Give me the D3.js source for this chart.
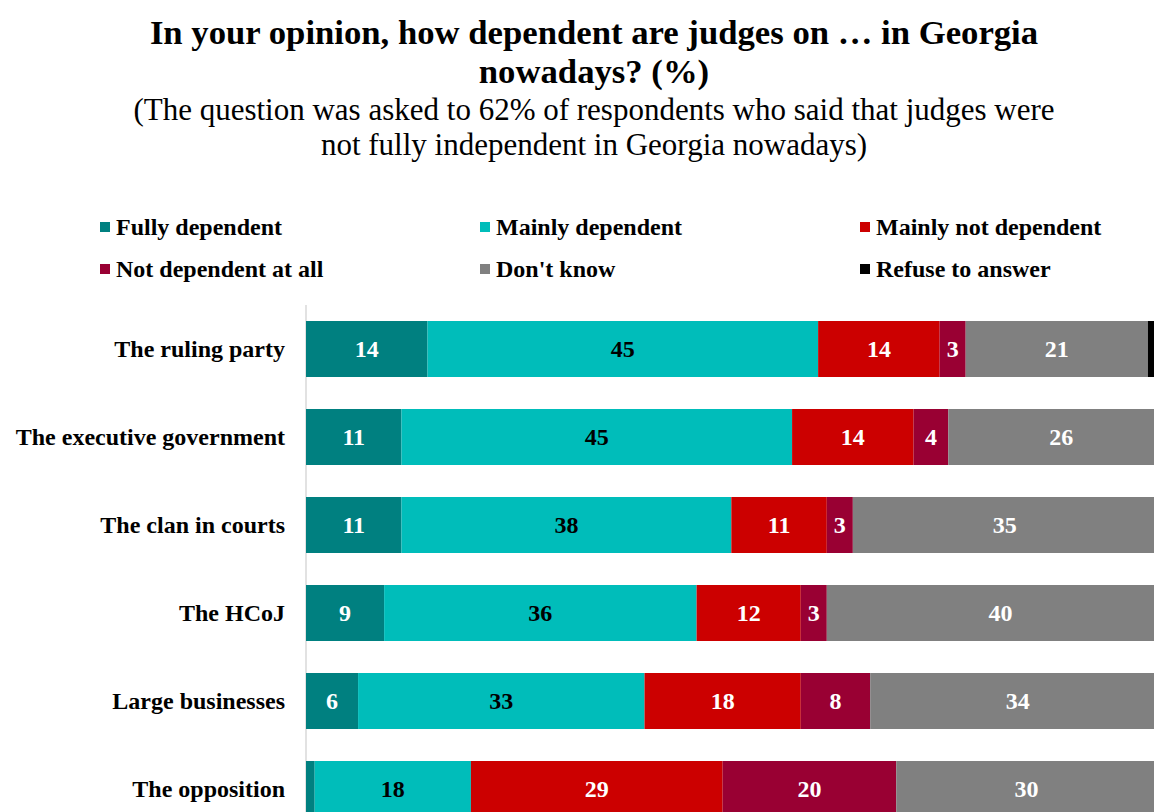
<!DOCTYPE html>
<html>
<head>
<meta charset="utf-8">
<script src="https://cdn.jsdelivr.net/npm/d3@7/dist/d3.min.js"></script>
<style>
  html, body { margin: 0; padding: 0; background: #ffffff; }
  svg { display: block; font-family: "Liberation Serif", "Times New Roman", serif; }
</style>
</head>
<body>
<svg id="chart" width="1154" height="812"></svg>
<script>
// Survey items (rows, top to bottom)
const categories = [
  "The ruling party",
  "The executive government",
  "The clan in courts",
  "The HCoJ",
  "Large businesses",
  "The opposition"
];

// Answer options, in stacking order
const seriesNames = [
  "Fully dependent",
  "Mainly dependent",
  "Mainly not dependent",
  "Not dependent at all",
  "Don't know",
  "Refuse to answer"
];
const seriesColors = ["#008080", "#00BDBA", "#CC0000", "#990033", "#808080", "#000000"];
const labelColors  = ["#ffffff", "#000000", "#ffffff", "#ffffff", "#ffffff", "#ffffff"];

// Percentages per answer option, one entry per category
const fullyDependent     = [14, 11, 11,  9,  6,  1];
const mainlyDependent    = [45, 45, 38, 36, 33, 18];
const mainlyNotDependent = [14, 14, 11, 12, 18, 29];
const notDependentAtAll  = [ 3,  4,  3,  3,  8, 20];
const dontKnow           = [21, 26, 35, 40, 34, 30];
const refuseToAnswer     = [ 3,  0,  2,  0,  1,  2];

const seriesValues = [fullyDependent, mainlyDependent, mainlyNotDependent,
                      notDependentAtAll, dontKnow, refuseToAnswer];

const rows = categories.map((c, i) => {
  const r = { category: c };
  seriesNames.forEach((s, j) => { r[s] = seriesValues[j][i]; });
  return r;
});

const stacked = d3.stack().keys(seriesNames)(rows);

const svg = d3.select("#chart");

const x = d3.scaleLinear().domain([0, 100]).range([306, 1174]);
const y = d3.scaleBand()
  .domain(categories)
  .range([305, 305 + 88 * categories.length])
  .paddingInner(32 / 88)
  .paddingOuter(16 / 88);

// Title and subtitle
const titleLines = ["In your opinion, how dependent are judges on \u2026 in Georgia", "nowadays? (%)"];
const subLines = ["(The question was asked to 62% of respondents who said that judges were",
                  "not fully independent in Georgia nowadays)"];
svg.append("g").selectAll("text").data(titleLines).join("text")
  .attr("x", 594).attr("y", (d, i) => 44 + i * 39)
  .attr("text-anchor", "middle")
  .attr("font-size", 34.7).attr("font-weight", "bold").attr("fill", "#000")
  .text(d => d);
svg.append("g").selectAll("text").data(subLines).join("text")
  .attr("x", 594).attr("y", (d, i) => 120 + i * 35)
  .attr("text-anchor", "middle")
  .attr("font-size", 31).attr("fill", "#000")
  .text(d => d);

// Legend: three columns, two rows
const legend = svg.append("g").selectAll("g").data(seriesNames).join("g")
  .attr("transform", (d, i) => `translate(${100 + (i % 3) * 380},${227 + Math.floor(i / 3) * 42})`);
legend.append("rect")
  .attr("x", 0).attr("y", -5).attr("width", 10).attr("height", 10)
  .attr("fill", (d, i) => seriesColors[i]);
legend.append("text")
  .attr("x", 16).attr("y", 8)
  .attr("font-size", 24).attr("font-weight", "bold").attr("fill", "#000")
  .text(d => d);

// Vertical axis line
svg.append("line")
  .attr("x1", 306).attr("x2", 306)
  .attr("y1", y.range()[0]).attr("y2", 812)
  .attr("stroke", "#d9d9d9").attr("stroke-width", 1.5);

// Stacked bars
const layers = svg.append("g").selectAll("g").data(stacked).join("g")
  .attr("fill", (d, i) => seriesColors[i]);
layers.selectAll("rect").data(d => d).join("rect")
  .attr("x", d => x(d[0]))
  .attr("y", d => y(d.data.category))
  .attr("width", d => x(d[1]) - x(d[0]))
  .attr("height", y.bandwidth());

// Value labels (skip slivers and the refusal share)
const labelLayers = svg.append("g").selectAll("g").data(stacked.slice(0, 5)).join("g")
  .attr("fill", (d, i) => labelColors[i]);
labelLayers.selectAll("text").data(d => d.filter(p => p[1] - p[0] >= 2)).join("text")
  .attr("x", d => (x(d[0]) + x(d[1])) / 2)
  .attr("y", d => y(d.data.category) + y.bandwidth() / 2)
  .attr("dy", "0.35em")
  .attr("text-anchor", "middle")
  .attr("font-size", 24).attr("font-weight", "bold")
  .text(d => d[1] - d[0]);

// Category labels
svg.append("g").selectAll("text").data(categories).join("text")
  .attr("x", 285)
  .attr("y", d => y(d) + y.bandwidth() / 2)
  .attr("dy", "0.35em")
  .attr("text-anchor", "end")
  .attr("font-size", 24).attr("font-weight", "bold").attr("fill", "#000")
  .text(d => d);
</script>
</body>
</html>
